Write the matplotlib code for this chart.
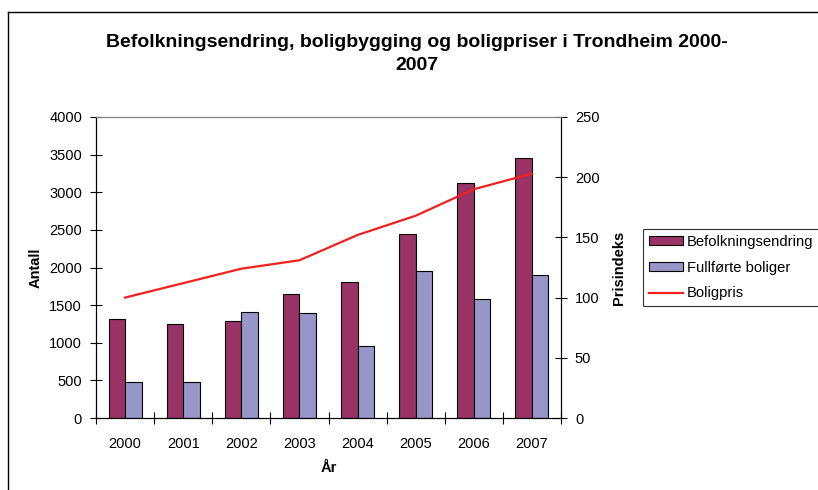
import matplotlib
matplotlib.use("Agg")
import matplotlib.pyplot as plt
import numpy as np
from matplotlib.lines import Line2D

plt.rcParams['font.family'] = ['Liberation Sans', 'DejaVu Sans']

years = ["2000", "2001", "2002", "2003", "2004", "2005", "2006", "2007"]
befolkning = [1310, 1250, 1295, 1650, 1810, 2450, 3120, 3450]
fullforte = [480, 480, 1410, 1390, 960, 1950, 1580, 1900]
boligpris = [100, 112, 124, 131, 152, 168, 190, 203]

left_ticks = [0, 500, 1000, 1500, 2000, 2500, 3000, 3500, 4000]
right_ticks = [0, 50, 100, 150, 200, 250]

W, H = 818, 490
fig = plt.figure(figsize=(W / 100, H / 100), dpi=100)
ax = fig.add_axes([96 / W, 1 - 418 / H, (561 - 96) / W, (418 - 117) / H])
ax2 = ax.twinx()

x = np.arange(len(years))
bw = 0.283
ax.bar(x - bw / 2, befolkning, width=bw, color="#993366", edgecolor="black",
       linewidth=0.8, label="Befolkningsendring", zorder=2)
ax.bar(x + bw / 2, fullforte, width=bw, color="#9896C8", edgecolor="black",
       linewidth=0.8, label="Fullførte boliger", zorder=2)
ax2.plot(x, boligpris, color="#F02020", linewidth=1.6, label="Boligpris")

ax.set_xlim(-0.5, len(years) - 0.5)
ax.set_ylim(0, 4000)
ax2.set_ylim(0, 250)
ax.set_yticks(left_ticks)
ax2.set_yticks(right_ticks)
ax.set_xticks(x)
ax.set_xticklabels(years)
ax.set_xticks(np.arange(-0.5, len(years)), minor=True)
ax.tick_params(axis='x', which='major', length=0, labelsize=10.5, pad=14)
ax.tick_params(axis='x', which='minor', length=8, direction='inout', width=0.8)
ax.tick_params(axis='y', length=8, direction='inout', labelsize=10.5, width=0.8, pad=6)
ax2.tick_params(axis='y', length=8, direction='inout', labelsize=10.5, width=0.8, pad=6)

for a in (ax, ax2):
    a.spines['top'].set_color('#808080')
    a.spines['top'].set_linewidth(0.8)
    for s in ('left', 'right', 'bottom'):
        a.spines[s].set_linewidth(0.8)
ax.set_zorder(ax2.get_zorder() - 1)
ax2.patch.set_visible(False)

ax.set_ylabel("Antall", fontsize=10.5, fontweight='bold', labelpad=5)
ax2.set_ylabel("Prisindeks", fontsize=10.5, fontweight='bold', labelpad=9)
ax.set_xlabel("År", fontsize=10.5, fontweight='bold', labelpad=7)

fig.text(417 / W, 1 - 54 / H,
         "Befolkningsendring, boligbygging og boligpriser i Trondheim 2000-\n2007",
         ha='center', va='center', fontsize=14, fontweight='bold', linespacing=1.4)

h1, l1 = ax.get_legend_handles_labels()
h2, l2 = ax2.get_legend_handles_labels()
leg = fig.legend(h1 + h2, l1 + l2, loc='upper left',
                 bbox_to_anchor=(643 / W, 1 - 229 / H), fontsize=10.6,
                 frameon=True, fancybox=False, edgecolor='black',
                 borderpad=0.4, handlelength=2.3, handleheight=0.6,
                 handletextpad=0.3, labelspacing=0.8, borderaxespad=0)
leg.get_frame().set_linewidth(0.8)

# outer chart border (left and top visible)
fig.add_artist(Line2D([8 / W, 8 / W], [0, 1 - 12 / H], transform=fig.transFigure,
                      color='black', linewidth=1))
fig.add_artist(Line2D([8 / W, 1], [1 - 12 / H, 1 - 12 / H], transform=fig.transFigure,
                      color='black', linewidth=1))

fig.savefig("out.png", dpi=100)
